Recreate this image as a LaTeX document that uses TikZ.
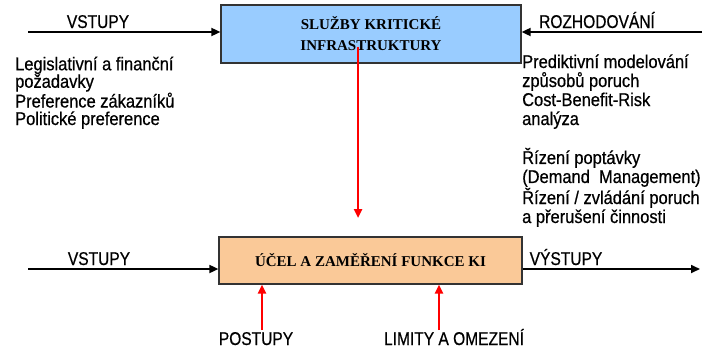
\documentclass[tikz,border=0pt]{standalone}
\usepackage{fontspec}
\setmainfont{Liberation Sans}
\newfontfamily\bodyfont[FakeStretch=0.89,FakeBold=0.6]{Liberation Sans}
\newfontfamily\lblfont[FakeStretch=0.84,FakeBold=0.6]{Liberation Sans}
\newfontfamily\boxfont{Liberation Serif}
\usetikzlibrary{arrows.meta}
\definecolor{boxblue}{RGB}{153,204,255}
\definecolor{boxpeach}{RGB}{250,201,152}
\definecolor{arrred}{RGB}{255,0,0}
\begin{document}
\begin{tikzpicture}[x=1pt,y=-1pt,
 kibox/.style={draw=black!80, line width=1.2pt, inner sep=0pt, align=center,
   font=\boxfont\bfseries\fontsize{15}{21}\selectfont},
 blackarr/.style={line width=1.7pt, -{Triangle[length=9pt,width=8pt]}},
 redarr/.style={draw=arrred, line width=2.9pt, -{Triangle[length=9pt,width=8pt,fill=arrred]}},
 lbl/.style={font=\lblfont\fontsize{18.5}{20}\selectfont, inner sep=0pt, anchor=base},
 bodyl/.style={font=\bodyfont\fontsize{18.5}{17.5}\selectfont, inner sep=0pt, align=left, anchor=base west},
 bodyr/.style={font=\bodyfont\fontsize{18.5}{19}\selectfont, inner sep=0pt, align=left, anchor=base west}
]
\useasboundingbox (0,0) rectangle (708,356);
% boxes
\node[kibox, fill=boxblue, minimum width=300pt, minimum height=58pt] (top) at (371,34) {SLUŽBY KRITICKÉ\\INFRASTRUKTURY};
\node[kibox, fill=boxpeach, minimum width=303pt, minimum height=47pt] (bot) at (370.5,260.5) {\raisebox{2pt}{ÚČEL A ZAMĚŘENÍ FUNKCE KI}};
% labels
\node[lbl] (l1) at (98,28) {VSTUPY};
\node[lbl] (l2) at (597,28) {ROZHODOVÁNÍ};
\node[lbl] (l3) at (99,265) {VSTUPY};
\node[lbl] (l4) at (566,265) {VÝSTUPY};
\node[lbl] (l5) at (256,345) {POSTUPY};
\node[lbl] (l6) at (454,345) {LIMITY A OMEZENÍ};
% body texts (base anchor = baseline of last line)
\node[bodyl] (t1) at (15,125) {Legislativní a finanční\\požadavky\\Preference zákazníků\\Politické preference};
\node[bodyr] (t2) at (522,125) {Prediktivní modelování\\způsobů poruch\\Cost-Benefit-Risk\\analýza};
\node[bodyr] (t3) at (522,223) {Řízení poptávky\\(Demand\ \ Management)\\Řízení / zvládání poruch\\a přerušení činnosti};
% connectors
\coordinate (in1) at (28,32);
\coordinate (dec) at (702,32);
\coordinate (in2) at (28,269);
\coordinate (out) at (700,269);
\coordinate (rs) at (358,47);
\coordinate (re) at (358,218);
\coordinate (ps) at (262,330);
\coordinate (ls) at (439,330);
\draw[blackarr] (in1) -- (in1 -| top.west);
\draw[blackarr] (dec) -- (dec -| top.east);
\draw[blackarr] (in2) -- (in2 -| bot.west);
\draw[blackarr] (out -| bot.east) -- (out);
\draw[redarr] (rs) -- (re);
\draw[redarr] (ps) -- (ps |- bot.south);
\draw[redarr] (ls) -- (ls |- bot.south);
\end{tikzpicture}
\end{document}
